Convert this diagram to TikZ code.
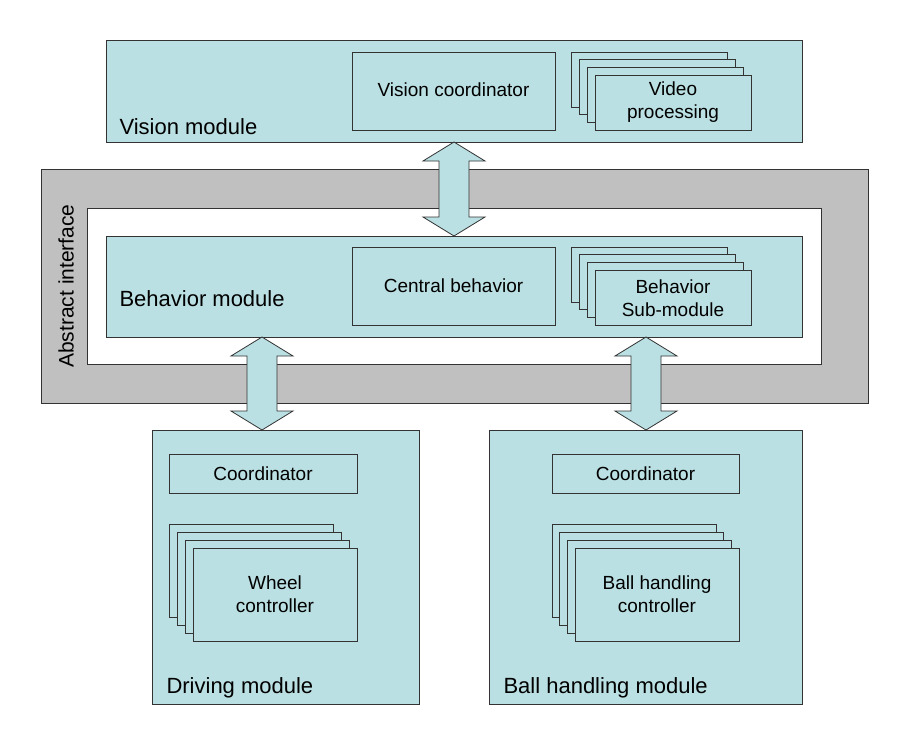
\documentclass[tikz,border=0pt]{standalone}
\usepackage{fontspec}
\setmainfont{Liberation Sans}
\definecolor{lb}{HTML}{BBE0E3}
\definecolor{gr}{HTML}{C0C0C0}
\newcommand{\dblarrow}[3]{% x, ytop, ybottom
  \draw[arr] (#1-15,#2+19) -- (#1-31,#2+19) -- (#1,#2) -- (#1+31,#2+19) -- (#1+15,#2+19)
    -- (#1+15,#3-19) -- (#1+31,#3-19) -- (#1,#3) -- (#1-31,#3-19) -- (#1-15,#3-19) -- cycle;}
\begin{document}
\begin{tikzpicture}[x=1pt,y=-1pt,
  box/.style={draw=black!80,fill=lb,line width=0.8pt},
  arr/.style={draw=black!80,fill=lb,line width=0.8pt},
  lbl/.style={font=\fontsize{19}{23}\selectfont,align=center},
  mlbl/.style={font=\fontsize{22}{24}\selectfont,anchor=base west}]
\useasboundingbox (0,0) rectangle (903,742);
% abstract interface frame
\draw[fill=gr,draw=black!80,line width=0.8pt] (41,169) rectangle (868,403);
\draw[fill=white,draw=black!80,line width=0.8pt] (87,208) rectangle (821,364);
\node[rotate=90,font=\fontsize{21}{24}\selectfont] (ai) at (66,286) {Abstract interface};
% vision module
\draw[box] (106,40) rectangle (802,142);
\node[mlbl] (vml) at (116,134) {Vision module};
\draw[box] (352,52) rectangle (555,130);
\node[lbl] (vc) at (453.5,90) {Vision coordinator};
\foreach \i in {0,1,2,3}{\draw[box] (571+8*\i,52+7.7*\i) rectangle (727+8*\i,107+7.7*\i);}
\node[lbl] (vp) at (673,102) {Video\\processing};
% behavior module
\draw[box] (106,236) rectangle (802,337);
\node[mlbl] (bml) at (116,306) {Behavior module};
\draw[box] (352,247) rectangle (555,325);
\node[lbl] (cb) at (453.5,286) {Central behavior};
\foreach \i in {0,1,2,3}{\draw[box] (571+8*\i,247+7.7*\i) rectangle (727+8*\i,302+7.7*\i);}
\node[lbl] (bs) at (673,298) {Behavior\\Sub-module};
% driving module
\draw[box] (152,430) rectangle (419,704);
\node[mlbl] (dml) at (163,693) {Driving module};
\draw[box] (169,454) rectangle (357,493);
\node[lbl] (dc) at (263,473.5) {Coordinator};
\foreach \i in {0,1,2,3}{\draw[box] (169+8*\i,524+8*\i) rectangle (333+8*\i,617+8*\i);}
\node[lbl] (wc) at (275,594) {Wheel\\controller};
% ball handling module
\draw[box] (489,430) rectangle (802,704);
\node[mlbl] (bhl) at (500,693) {Ball handling module};
\draw[box] (552,454) rectangle (739,493);
\node[lbl] (bc) at (645.5,473.5) {Coordinator};
\foreach \i in {0,1,2,3}{\draw[box] (552+7.7*\i,524+8*\i) rectangle (716+7.7*\i,617+8*\i);}
\node[lbl] (bhc) at (657,594) {Ball handling\\controller};
% arrows
\dblarrow{454}{142}{236}
\dblarrow{262}{337}{430}
\dblarrow{646}{337}{430}
\end{tikzpicture}
\end{document}
